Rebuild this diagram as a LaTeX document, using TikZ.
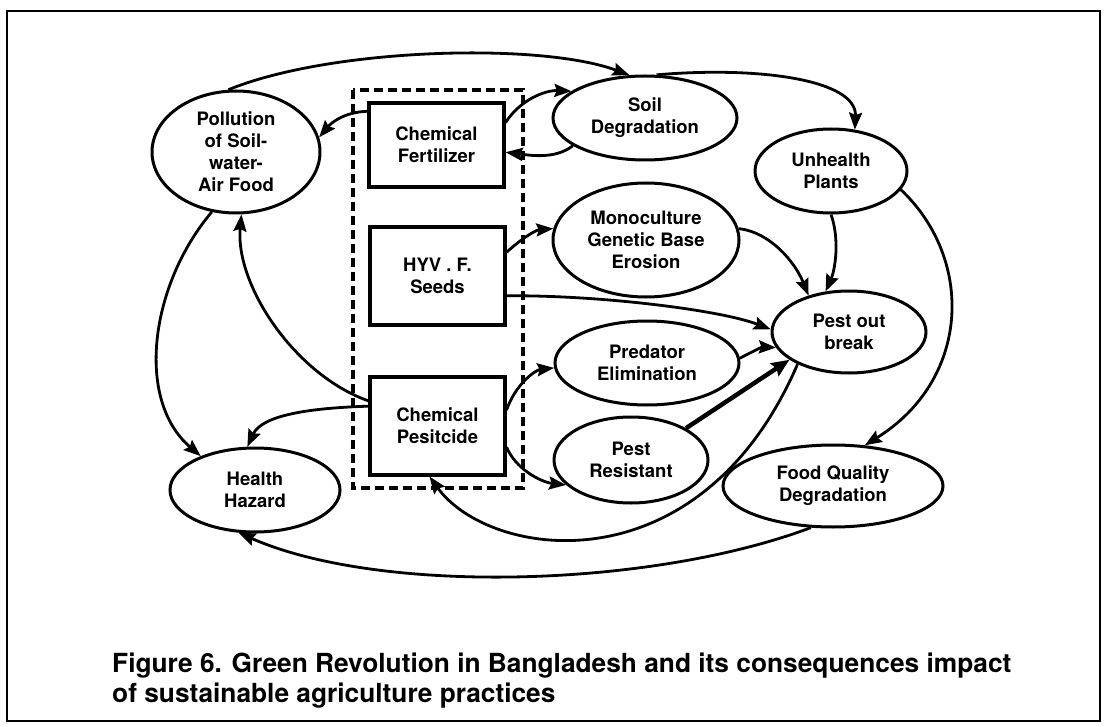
\documentclass[tikz,border=0pt]{standalone}
\usepackage{fontspec}
\setmainfont{TeX Gyre Heros}
\usetikzlibrary{arrows.meta,shapes.geometric}
\begin{document}
\begin{tikzpicture}[x=1pt,y=-1pt,
  ell/.style={draw,ellipse,line width=3pt,inner sep=0pt,align=center,
    font=\fontsize{18.5}{22}\selectfont\bfseries},
  box/.style={draw,rectangle,line width=3.2pt,inner sep=0pt,align=center,
    minimum width=135pt,font=\fontsize{18.5}{22}\selectfont\bfseries},
  conn/.style={line width=2.8pt,-{Stealth[length=17pt,width=13pt,inset=2.5pt]}},
  thickconn/.style={line width=4.5pt,-{Stealth[length=18pt,width=15pt,inset=2.5pt]}},
]
\useasboundingbox (0,0) rectangle (1105,727);
\fill[white] (0,0) rectangle (1105,727);
\draw[line width=2.2pt] (7,11) rectangle (1100,721);

% group frame
\draw[line width=3.8pt,dash pattern=on 9pt off 5pt] (353,90) rectangle (523,488);

% boxes
\node[box,minimum height=84pt] (fert) at (436.5,145) {Chemical\\Fertilizer};
\node[box,minimum height=98pt] (hyv) at (437.5,276) {HYV . F.\\Seeds};
\node[box,minimum height=98pt] (pes) at (437.5,426) {Chemical\\Pesitcide};

% ellipses
\node[ell,minimum width=168pt,minimum height=122pt] (poll) at (236,152) {Pollution\\of Soil-\\water-\\Air Food};
\node[ell,minimum width=184pt,minimum height=84pt] (soil) at (645,118) {Soil\\Degradation};
\node[ell,minimum width=152pt,minimum height=84pt] (unh) at (831,171) {Unhealth\\Plants};
\node[ell,minimum width=186pt,minimum height=114pt] (mono) at (646,240) {Monoculture\\Genetic Base\\Erosion};
\node[ell,minimum width=154pt,minimum height=82pt] (pest) at (849,332) {Pest out\\break};
\node[ell,minimum width=184pt,minimum height=84pt] (pred) at (647,363) {Predator\\Elimination};
\node[ell,minimum width=154pt,minimum height=86pt] (res) at (631,460) {Pest\\Resistant};
\node[ell,minimum width=220pt,minimum height=82pt] (food) at (833,486) {Food Quality\\Degradation};
\node[ell,minimum width=170pt,minimum height=84pt] (hh) at (255,490) {Health\\Hazard};

% connectors
\draw[conn] (poll.97) .. controls (330,48) and (540,42) .. (soil.110);
\draw[conn] (soil.75) .. controls (760,66) and (857,80) .. (unh.60);
\draw[conn] (fert.154) .. controls (345,112) and (332,122) .. (poll.10);
\draw[conn] (fert.18) .. controls (520,100) and (545,90) .. (soil.160);
\draw[conn] (soil.201) .. controls (555,160) and (528,155) .. (fert.-6);
\draw[conn] (hyv.19) .. controls (520,240) and (535,230) .. (mono.173);
\draw[conn] (hyv.-16) .. controls (600,295) and (720,310) .. (pest.178);
\draw[conn] (mono.7) .. controls (770,232) and (795,262) .. (pest.138);
\draw[conn] (unh.-90) .. controls (840,240) and (835,270) .. (pest.120);
\draw[conn] (unh.-15) .. controls (975,260) and (970,380) .. (food.52);
\draw[conn] (pest.212) .. controls (700,590) and (490,560) .. (pes.261);
\draw[conn] (pred.3) .. controls (752,352) and (762,347) .. (pest.192);
\draw[thickconn] (res.30) -- (pest.205);
\draw[conn] (pes.13) .. controls (515,385) and (535,370) .. (pred.183);
\draw[conn] (pes.-17) .. controls (515,468) and (540,482) .. (res.201);
\draw[conn] (pes.164) .. controls (310,408) and (262,415) .. (hh.100);
\draw[conn] (pes.160) .. controls (295,375) and (235,285) .. (poll.-85);
\draw[conn] (poll.248) .. controls (150,285) and (135,400) .. (hh.148);
\draw[conn] (food.242) .. controls (650,588) and (380,595) .. (hh.249);

% caption
\node[anchor=north west,inner sep=0pt,align=left,
  font=\fontsize{26.3}{30}\selectfont\bfseries] (cap) at (112,653)
  {Figure 6. Green Revolution in Bangladesh and its consequences impact\\of sustainable agriculture practices};
\end{tikzpicture}
\end{document}
